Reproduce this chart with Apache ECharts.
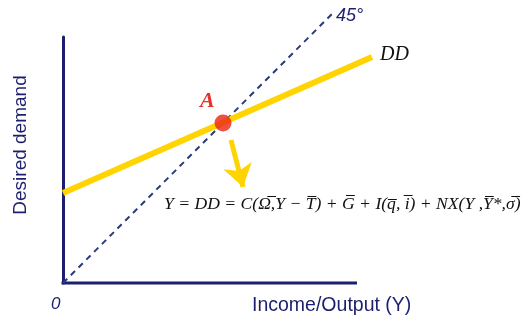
<!DOCTYPE html>
<html>
<head>
<meta charset="utf-8">
<script src="https://cdn.jsdelivr.net/npm/echarts@6/dist/echarts.min.js"></script>
<style>
  html, body { margin: 0; padding: 0; background: #fff; }
  #chart { width: 527px; height: 320px; }
</style>
</head>
<body>
<div id="chart"></div>
<script>
  // data in chart units (x = income/output, y = desired demand)
  var axisEndX = 294;
  var lineX45 = [0, 270];
  var lineY45 = [0, 270];
  var ddX = [0, 309];
  var ddY = [90, 226];
  var pointA = [160, 160];
  var arrowFrom = [168, 143];
  var arrowTo = [180, 96];

  var navy = '#1c1f6e';
  var yellow = '#ffd400';

  var chart = echarts.init(document.getElementById('chart'));
  var option = {
    animation: false,
    grid: { left: 63, top: 37, width: 309, height: 246 },
    xAxis: {
      type: 'value', min: 0, max: 309,
      axisLine: { show: false },
      axisTick: { show: false }, axisLabel: { show: false }, splitLine: { show: false }
    },
    yAxis: {
      type: 'value', min: 0, max: 246,
      axisLine: { show: true, lineStyle: { color: navy, width: 3 } },
      axisTick: { show: false }, axisLabel: { show: false }, splitLine: { show: false }
    },
    series: [
      {
        name: 'axis',
        type: 'line',
        clip: false,
        symbol: 'none',
        lineStyle: { color: navy, width: 3 },
        data: [[-1.5, 0], [axisEndX, 0]]
      },
      {
        name: '45',
        type: 'line',
        clip: false,
        symbol: 'none',
        lineStyle: { color: '#2b3b78', width: 2, type: [6, 5] },
        data: lineX45.map(function (x, i) { return [x, lineY45[i]]; })
      },
      {
        name: 'DD',
        type: 'line',
        clip: false,
        symbol: 'none',
        lineStyle: { color: yellow, width: 6 },
        data: ddX.map(function (x, i) { return [x, ddY[i]]; }),
        markLine: {
          silent: true,
          symbol: ['none', 'arrow'],
          symbolSize: [22, 22],
          label: { show: false },
          lineStyle: { color: yellow, width: 5, type: 'solid' },
          data: [[{ coord: arrowFrom }, { coord: arrowTo }]]
        }
      },
      {
        name: 'A',
        type: 'scatter',
        clip: false,
        symbolSize: 17,
        itemStyle: { color: '#ec2414' },
        z: 5,
        data: [pointA]
      }
    ],
    graphic: [
      { type: 'text', left: 200, top: 90, style: { text: 'A', fill: '#e8302a', font: 'italic bold 22px "Liberation Serif"' } },
      { type: 'text', left: 380, top: 45, style: { text: 'DD', fill: '#111', font: 'italic 20px "Liberation Serif"' } },
      { type: 'text', left: 336, top: 7, style: { text: '45°', fill: navy, font: 'italic 18px "Liberation Sans"' } },
      { type: 'text', left: 51, top: 296, style: { text: '0', fill: navy, font: 'italic 17px "Liberation Sans"' } },
      { type: 'text', left: 252, top: 296, style: { text: 'Income/Output (Y)', fill: navy, font: '19.5px "Liberation Sans"' } },
      { type: 'text', x: 21, y: 145, rotation: Math.PI / 2, style: { text: 'Desired demand', fill: navy, font: '19px "Liberation Sans"', align: 'center', verticalAlign: 'middle' } },
      { type: 'text', left: 164, top: 195, style: { text: 'Y = DD = C(\u03A9\u0305,Y \u2212 T\u0305) + G\u0305 + I(q\u0305, i\u0305) + NX(Y ,Y\u0305*,\u03C3\u0305)', fill: '#111', font: 'italic 17.6px "Liberation Serif"' } }
    ]
  };
  chart.setOption(option);
</script>
</body>
</html>
